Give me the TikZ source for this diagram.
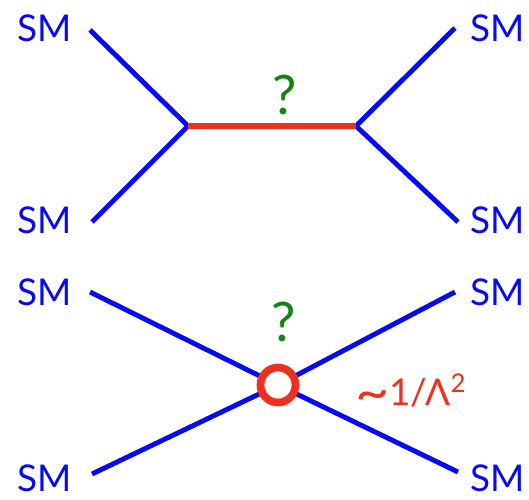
\documentclass[tikz,border=0pt]{standalone}
\usepackage{fontspec}
\setmainfont{Lato}
\usetikzlibrary{positioning}
\definecolor{LineBlue}{RGB}{10,10,240}
\definecolor{MedRed}{RGB}{238,48,30}
\definecolor{QGreen}{RGB}{20,130,20}

\begin{document}
\begin{tikzpicture}[x=0.02cm, y=-0.02cm, font=\fontsize{21}{24}\selectfont,
	sm/.style={text=LineBlue, inner sep=0pt},
	leg/.style={line width=2.8pt, LineBlue},
	prop/.style={line width=3.6pt, MedRed},
	vtx/.style={circle, draw=MedRed, line width=4.4pt, fill=white, minimum size=0.7cm, inner sep=0pt},
	qm/.style={text=QGreen, inner sep=0pt, font=\fontsize{31}{34}\selectfont}]
	\useasboundingbox (0,0) rectangle (529,500);
	% s-channel exchange
	\coordinate (t1) at (90,30);
	\coordinate (t2) at (92,222);
	\coordinate (t3) at (455,28);
	\coordinate (t4) at (458,222);
	\coordinate (va) at (188,126);
	\coordinate (vb) at (356,126);
	\node[sm] (s1) at (45,28) {SM};
	\node[sm] (s2) at (45,220) {SM};
	\node[sm] (s3) at (498,28) {SM};
	\node[sm] (s4) at (498,220) {SM};
	\draw[leg] (t1)--(va); \draw[leg] (t2)--(va);
	\draw[leg] (vb)--(t3); \draw[leg] (vb)--(t4);
	\draw[prop] (va)--(vb);
	\node[qm] (q1) at (285,95) {?};
	% contact interaction
	\coordinate (b1) at (90,292);
	\coordinate (b2) at (92,474);
	\coordinate (b3) at (455,292);
	\coordinate (b4) at (458,472);
	\node[sm] (s5) at (45,292) {SM};
	\node[sm] (s6) at (45,478) {SM};
	\node[sm] (s7) at (498,292) {SM};
	\node[sm] (s8) at (498,478) {SM};
	\draw[leg] (b1)--(278,385)--(b4);
	\draw[leg] (b2)--(278,385)--(b3);
	\node[vtx] (c) at (278,385) {};
	\node[qm] (q2) at (284,322) {?};
	\node[text=MedRed, inner sep=0pt, anchor=west] (scale) at (355,392)
		{\raisebox{-3pt}{\scalebox{1.6}[1.4]{\textasciitilde}}1/Λ\textsuperscript{2}};
\end{tikzpicture}
\end{document}
